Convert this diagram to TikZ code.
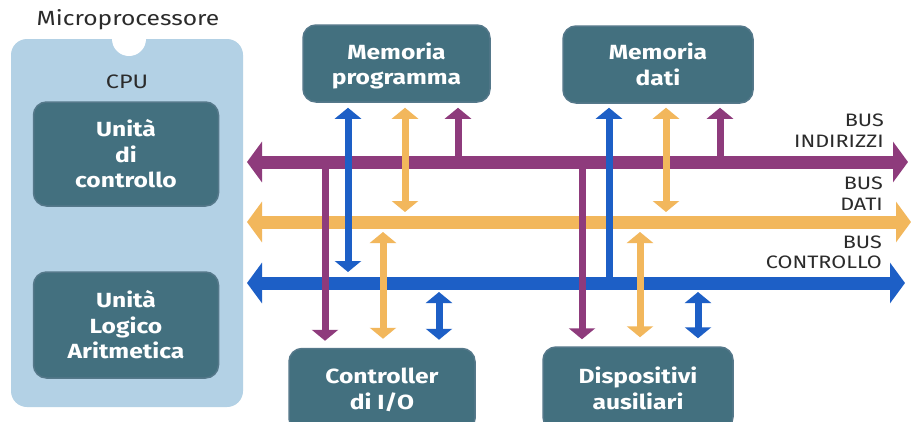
\documentclass[tikz,border=0pt]{standalone}
\usepackage{fontspec}
\setmainfont{Fira Sans}[FakeStretch=1.2]
\usetikzlibrary{arrows.meta}
\definecolor{cpublue}{HTML}{B3D1E5}
\definecolor{boxteal}{HTML}{43707F}
\definecolor{boxedge}{HTML}{55788A}
\definecolor{busp}{HTML}{8E3B7C}
\definecolor{buso}{HTML}{F2B75C}
\definecolor{busb}{HTML}{1D5FC6}
\definecolor{txt}{HTML}{2B2B2B}
\begin{document}
\begin{tikzpicture}[x=1pt,y=-1pt,
  box/.style={fill=boxteal, draw=boxedge, line width=1.5pt, rounded corners=13pt,
    text=white, font=\bfseries\fontsize{20.5}{25.5}\selectfont, align=center, inner sep=0pt},
  lbl/.style={text=txt, font=\fontsize{18}{20.5}\selectfont, align=right, anchor=east, inner sep=0pt},
  bus/.style={line width=13pt, {Triangle[width=40pt,length=15pt]}-{Triangle[width=40pt,length=15pt]}},
  vup/.style={line width=7pt, -{Triangle[width=26pt,length=11pt]}},
  vboth/.style={line width=7pt, {Triangle[width=26pt,length=11pt]}-{Triangle[width=26pt,length=11pt]}}
]
\clip (0,0) rectangle (916,421);
\fill[white] (0,0) rectangle (916,421);

% CPU block
\fill[cpublue, rounded corners=16pt] (11,39) rectangle (243,407);
\fill[white] (129,39) circle (17);
\node[text=txt, font=\fontsize{20.5}{22}\selectfont, inner sep=0pt] (micro) at (128,20) {Microprocessore};
\node[text=txt, font=\fontsize{19.5}{20}\selectfont, inner sep=0pt] (cpu) at (127,82) {CPU};
\node[box, minimum width=185pt, minimum height=104pt] (uc) at (126,154) {Unità\\di\\controllo};
\node[box, minimum width=185pt, minimum height=106pt] (alu) at (126,325) {Unità\\Logico\\Aritmetica};

% memories and peripherals
\node[box, text depth=0pt, minimum width=187pt, minimum height=77pt] (mp) at (396.5,63.5) {Memoria\\programma};
\node[box, minimum width=190pt, minimum height=77pt] (md) at (658,64.5) {Memoria\\dati};
\node[box, minimum width=186pt, minimum height=83pt] (cio) at (382,390) {Controller\\di I/O};
\node[box, minimum width=190pt, minimum height=83pt] (da) at (638,388.5) {Dispositivi\\ausiliari};

% bus end points
\coordinate (aL) at (247,162); \coordinate (aR) at (908,162);
\coordinate (dL) at (247,222); \coordinate (dR) at (911,222);
\coordinate (cL) at (247,283); \coordinate (cR) at (905,283);

% buses
\draw[busp, bus] (aL) -- (aR);
\draw[buso, bus] (dL) -- (dR);
\draw[busb, bus] (cL) -- (cR);

% columns
\coordinate (c1) at (348,0);  \coordinate (c2) at (405,0);  \coordinate (c3) at (458,0);
\coordinate (c4) at (609,0);  \coordinate (c5) at (666,0);  \coordinate (c6) at (720,0);
\coordinate (c7) at (325,0);  \coordinate (c8) at (383,0);  \coordinate (c9) at (439,0);
\coordinate (c10) at (582,0); \coordinate (c11) at (640,0); \coordinate (c12) at (698,0);

% memoria programma
\draw[busb, vboth, shorten <=5pt, shorten >=11pt] (mp.south -| c1) -- (cL -| c1);
\draw[buso, vboth, shorten <=5pt, shorten >=10pt] (mp.south -| c2) -- (dL -| c2);
\draw[busp, vup, shorten >=5pt] (aL -| c3) -- (mp.south -| c3);
% memoria dati
\draw[busb, vup, shorten >=4pt] (cL -| c4) -- (md.south -| c4);
\draw[buso, vboth, shorten <=4pt, shorten >=10pt] (md.south -| c5) -- (dL -| c5);
\draw[busp, vup, shorten >=4pt] (aL -| c6) -- (md.south -| c6);
% controller I/O
\draw[busp, vup, shorten >=7pt] (aL -| c7) -- (cio.north -| c7);
\draw[buso, vboth, shorten <=10pt, shorten >=9pt] (dL -| c8) -- (cio.north -| c8);
\draw[busb, vboth, shorten <=9pt, shorten >=8pt] (cL -| c9) -- (cio.north -| c9);
% dispositivi ausiliari
\draw[busp, vup, shorten >=7pt] (aL -| c10) -- (da.north -| c10);
\draw[buso, vboth, shorten <=10pt, shorten >=9pt] (dL -| c11) -- (da.north -| c11);
\draw[busb, vboth, shorten <=9pt, shorten >=8pt] (cL -| c12) -- (da.north -| c12);

% bus labels
\node[lbl] (la) at (884,130.5) {BUS\\INDIRIZZI};
\node[lbl] (ld) at (883,193.5) {BUS\\DATI};
\node[lbl] (lc) at (882,252.5) {BUS\\CONTROLLO};
\end{tikzpicture}
\end{document}
